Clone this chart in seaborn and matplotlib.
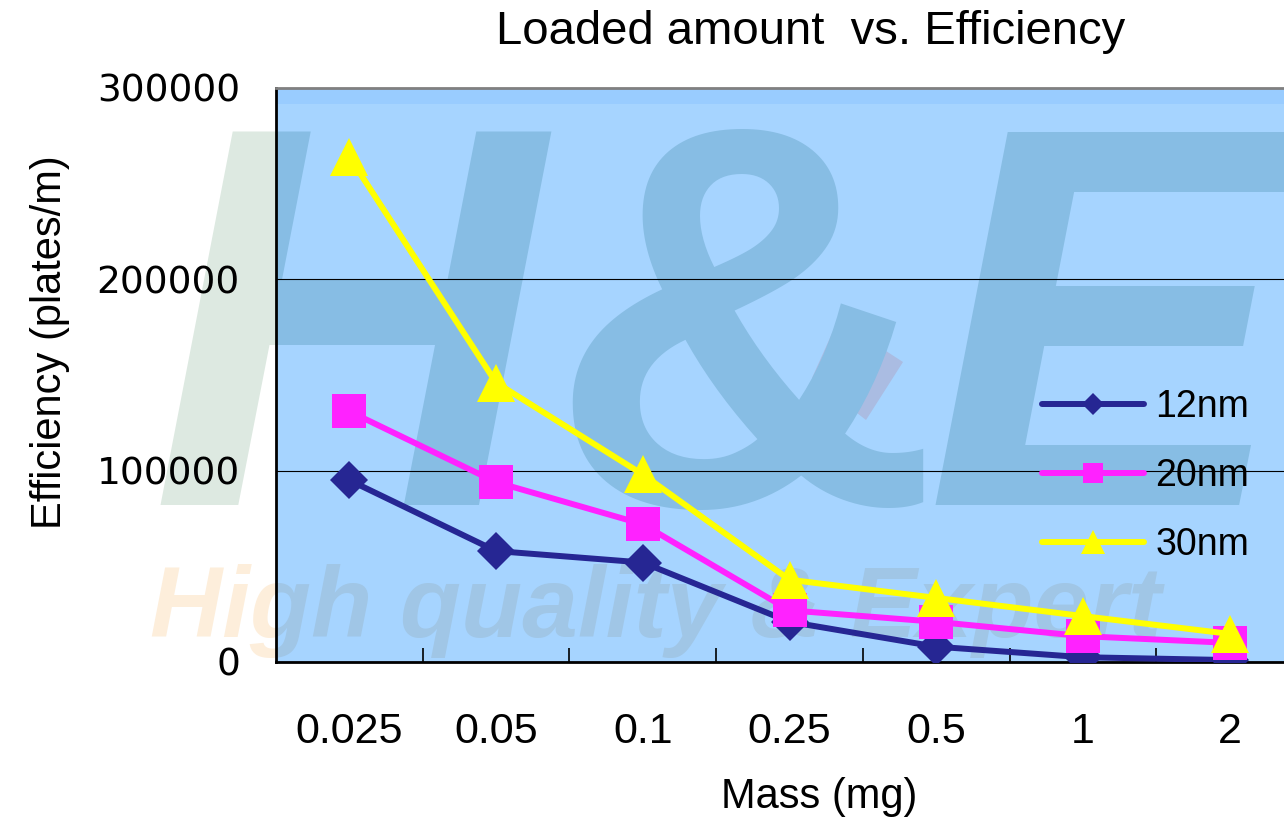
import numpy as np
import pandas as pd
import matplotlib
matplotlib.use('Agg')
import matplotlib.pyplot as plt
import matplotlib.patches as mpatches
import seaborn as sns

# ---------------- data ----------------
categories = ['0.025', '0.05', '0.1', '0.25', '0.5', '1', '2']
series_names = ['12nm', '20nm', '30nm']
eff_12nm = [95000, 58000, 52000, 21000, 8000, 2500, 1000]
eff_20nm = [131000, 94000, 72000, 27000, 21000, 13500, 10000]
eff_30nm = [264000, 146000, 98000, 43000, 33500, 24000, 14700]
y_ticks = [0, 100000, 200000, 300000]
title_text = 'Loaded amount  vs. Efficiency'
x_label = 'Mass (mg)'
y_label = 'Efficiency (plates/m)'

# ---------------- style ----------------
sns.set_style('white')
plt.rcParams['font.family'] = ['Liberation Sans', 'DejaVu Sans']
plt.rcParams['text.color'] = 'black'
plt.rcParams['xtick.color'] = 'black'
plt.rcParams['ytick.color'] = 'black'

W, H = 1284, 819
fig = plt.figure(figsize=(W / 100, H / 100), dpi=100)
fig.patch.set_facecolor('white')


def fx(px):
    return px / W


def fy(py):
    return 1 - py / H


ax = fig.add_axes([fx(276), fy(662), (1303 - 276) / W, (662 - 88) / H])
ax.set_facecolor('#a6d4ff')

df = pd.DataFrame({
    'pos': np.tile(np.arange(len(categories)), len(series_names)),
    'Mass': categories * len(series_names),
    'Efficiency': eff_12nm + eff_20nm + eff_30nm,
    'Series': np.repeat(series_names, len(categories)),
})

styles = {
    '12nm': dict(color='#262693', marker='D', markersize=19),
    '20nm': dict(color='#ff22ff', marker='s', markersize=24),
    '30nm': dict(color='#ffff00', marker='^', markersize=28),
}

# top darker band of plot area
ax.axhspan(291500, 300000, color='#99ccff', zorder=0.2, lw=0)

# watermark (decorative)
deco = mpatches.Polygon([(fx(838), fy(320)), (fx(903), fy(362)), (fx(866), fy(420)), (fx(812), fy(378))],
                        closed=True, transform=fig.transFigure, facecolor='#aabce2', edgecolor='none', zorder=0.25)
deco.set_clip_path(ax.patch)
ax.add_artist(deco)
for letter, px, sty in [('H', 150, 'italic'), ('&', 548, 'normal'), ('E', 925, 'italic')]:
    wm_kw = dict(fontsize=390, fontweight='bold', style=sty, va='baseline', ha='left')
    fig.text(fx(px), fy(505), letter, color='#dde9e1', zorder=-1, **wm_kw)
    ax.text(fx(px), fy(505), letter, transform=fig.transFigure, color='#87bde4',
            zorder=0.3, clip_on=True, **wm_kw)
hq_kw = dict(fontsize=72, fontweight='bold', style='italic', va='baseline', ha='left')
fig.text(fx(150), fy(637), 'High quality & Expert', color='#fdeedb', zorder=-1, **hq_kw)
ax.text(fx(150), fy(637), 'High quality & Expert', transform=fig.transFigure,
        color='#a0c6e6', zorder=0.35, clip_on=True, **hq_kw)

lines = []
for i, name in enumerate(series_names):
    sub = df[df['Series'] == name]
    st = styles[name]
    sns.lineplot(data=sub, x='pos', y='Efficiency', ax=ax, sort=False,
                 color=st['color'], marker=st['marker'], markersize=st['markersize'],
                 markeredgewidth=0, linewidth=4.3, zorder=3 + i, legend=False)
    lines.append(ax.lines[-1])

# axes
ax.set_xlim(-0.5, len(categories) - 0.5)
ax.set_ylim(0, 300000)
ax.set_xticks(np.arange(len(categories)))
ax.set_xticklabels(categories, fontsize=31)
ax.set_xticks(np.arange(0.5, len(categories) - 1, 1), minor=True)
ax.tick_params(axis='x', which='major', length=0, pad=36, colors='black')
ax.tick_params(axis='x', which='minor', bottom=True, direction='in', length=10, width=1.2, color='black')
ax.set_yticks(y_ticks)
ax.set_yticklabels([str(v) for v in y_ticks], fontsize=27, family=['DejaVu Sans'])
ax.tick_params(axis='y', length=0, pad=26, colors='black')
ax.set_xlabel('')
ax.set_ylabel('')
ax.yaxis.grid(True, color='black', linewidth=0.8)
ax.set_axisbelow(True)
for s in ['left', 'bottom']:
    ax.spines[s].set_color('black')
    ax.spines[s].set_linewidth(2)
ax.spines['top'].set_color('#808080')
ax.spines['top'].set_linewidth(2)
ax.spines['right'].set_visible(False)

ax.legend(lines, series_names, loc='center left', bbox_to_anchor=(fx(1042), fy(476)),
          bbox_transform=fig.transFigure, frameon=False, fontsize=27, handlelength=2.72,
          handletextpad=0.3, labelspacing=0.88, borderpad=0, borderaxespad=0, markerscale=0.6,
          labelcolor='black')

fig.text(fx(811), fy(32), title_text, fontsize=34, ha='center', va='center')
fig.text(fx(819), fy(797), x_label, fontsize=30, ha='center', va='center')
fig.text(fx(50), fy(342), y_label, fontsize=30, rotation=90, ha='center', va='center')

fig.savefig('out.png', dpi=100)
